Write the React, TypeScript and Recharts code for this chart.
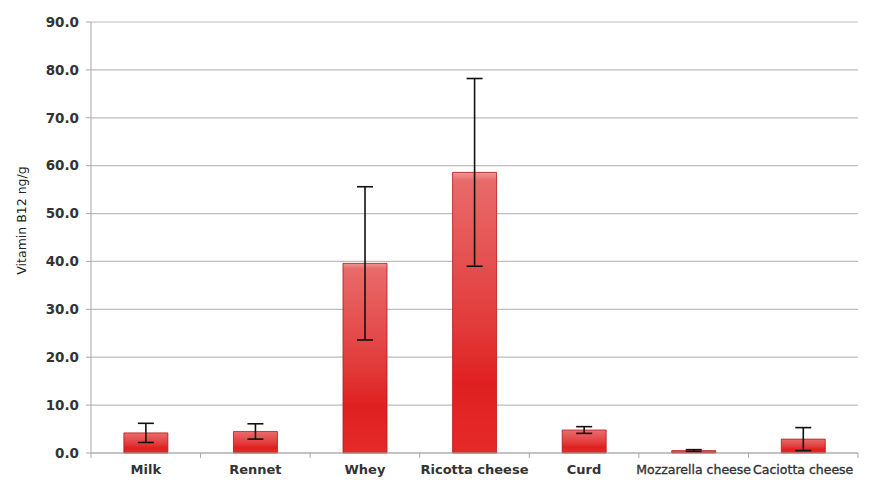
import React from 'react';
import { BarChart, Bar, XAxis, YAxis, CartesianGrid, ErrorBar } from 'recharts';

const foods = ['Milk', 'Rennet', 'Whey', 'Ricotta cheese', 'Curd', 'Mozzarella cheese', 'Caciotta cheese'];
const b12 = [4.2, 4.5, 39.6, 58.6, 4.8, 0.5, 2.9];
const b12Sd = [2.0, 1.6, 16.0, 19.6, 0.7, 0.2, 2.4];
const yTicks = [0, 10, 20, 30, 40, 50, 60, 70, 80, 90];

const data = foods.map((name, i) => ({ name, val: b12[i], err: b12Sd[i] }));

const FONT = '"DejaVu Sans", Verdana, sans-serif';
const AXIS = '#a8a8a8';

// category label + the little tick marks between categories
const FoodTick = (props: any) => {
  const { x, y, payload, index, width, visibleTicksCount } = props;
  const count = visibleTicksCount || foods.length;
  const half = payload.offset || width / count / 2;
  const label = String(payload.value);
  // the long names are set tighter in the original
  const tight = label.length > 14;
  return (
    <g>
      <line x1={x - half} x2={x - half} y1={y} y2={y + 5} stroke={AXIS} />
      {index === count - 1 && <line x1={x + half} x2={x + half} y1={y} y2={y + 5} stroke={AXIS} />}
      <text
        x={x}
        y={y}
        dy={21}
        textAnchor="middle"
        fill="#333"
        fontFamily={FONT}
        fontSize={tight ? 12.5 : 13}
        fontWeight={tight ? 'normal' : 'bold'}
        stroke={tight ? '#333' : 'none'}
        strokeWidth={tight ? 0.35 : 0}
      >
        {label}
      </text>
    </g>
  );
};

export default function App() {
  return (
    <div style={{ width: 872, height: 490, background: '#fff' }}>
      <style>{`body{margin:0}`}</style>
      <BarChart
        width={872}
        height={490}
        data={data}
        margin={{ top: 22, right: 14, left: 31, bottom: 7 }}
        barCategoryGap="30%"
      >
        <defs>
          <linearGradient id="redBar" x1="0" y1="0" x2="0" y2="1">
            <stop offset="0%" stopColor="#f09595" />
            <stop offset="3%" stopColor="#e96a6a" />
            <stop offset="55%" stopColor="#e23a3a" />
            <stop offset="75%" stopColor="#e02020" />
            <stop offset="100%" stopColor="#e52a2a" />
          </linearGradient>
        </defs>
        <CartesianGrid vertical={false} stroke="#bdbdbd" strokeWidth={1.2} />
        <XAxis
          dataKey="name"
          interval={0}
          stroke={AXIS}
          tickLine={false}
          tickSize={0}
          tickMargin={0}
          height={30}
          tick={<FoodTick />}
        />
        <YAxis
          domain={[0, 90]}
          ticks={yTicks}
          width={60}
          stroke={AXIS}
          tickSize={5}
          tickMargin={7}
          tickFormatter={(v: number) => v.toFixed(1)}
          tick={{ fill: '#333', fontFamily: FONT, fontSize: 13.5, fontWeight: 'bold' }}
          label={{
            value: 'Vitamin B12 ng/g',
            angle: -90,
            position: 'insideLeft',
            dx: -14,
            dy: -17,
            style: { textAnchor: 'middle', fill: '#222', fontFamily: FONT, fontSize: 12.5 },
          }}
        />
        <Bar dataKey="val" fill="url(#redBar)" stroke="#b01818" strokeWidth={0.8} isAnimationActive={false}>
          <ErrorBar dataKey="err" width={8} stroke="#111" strokeWidth={1.6} isAnimationActive={false} />
        </Bar>
      </BarChart>
    </div>
  );
}
